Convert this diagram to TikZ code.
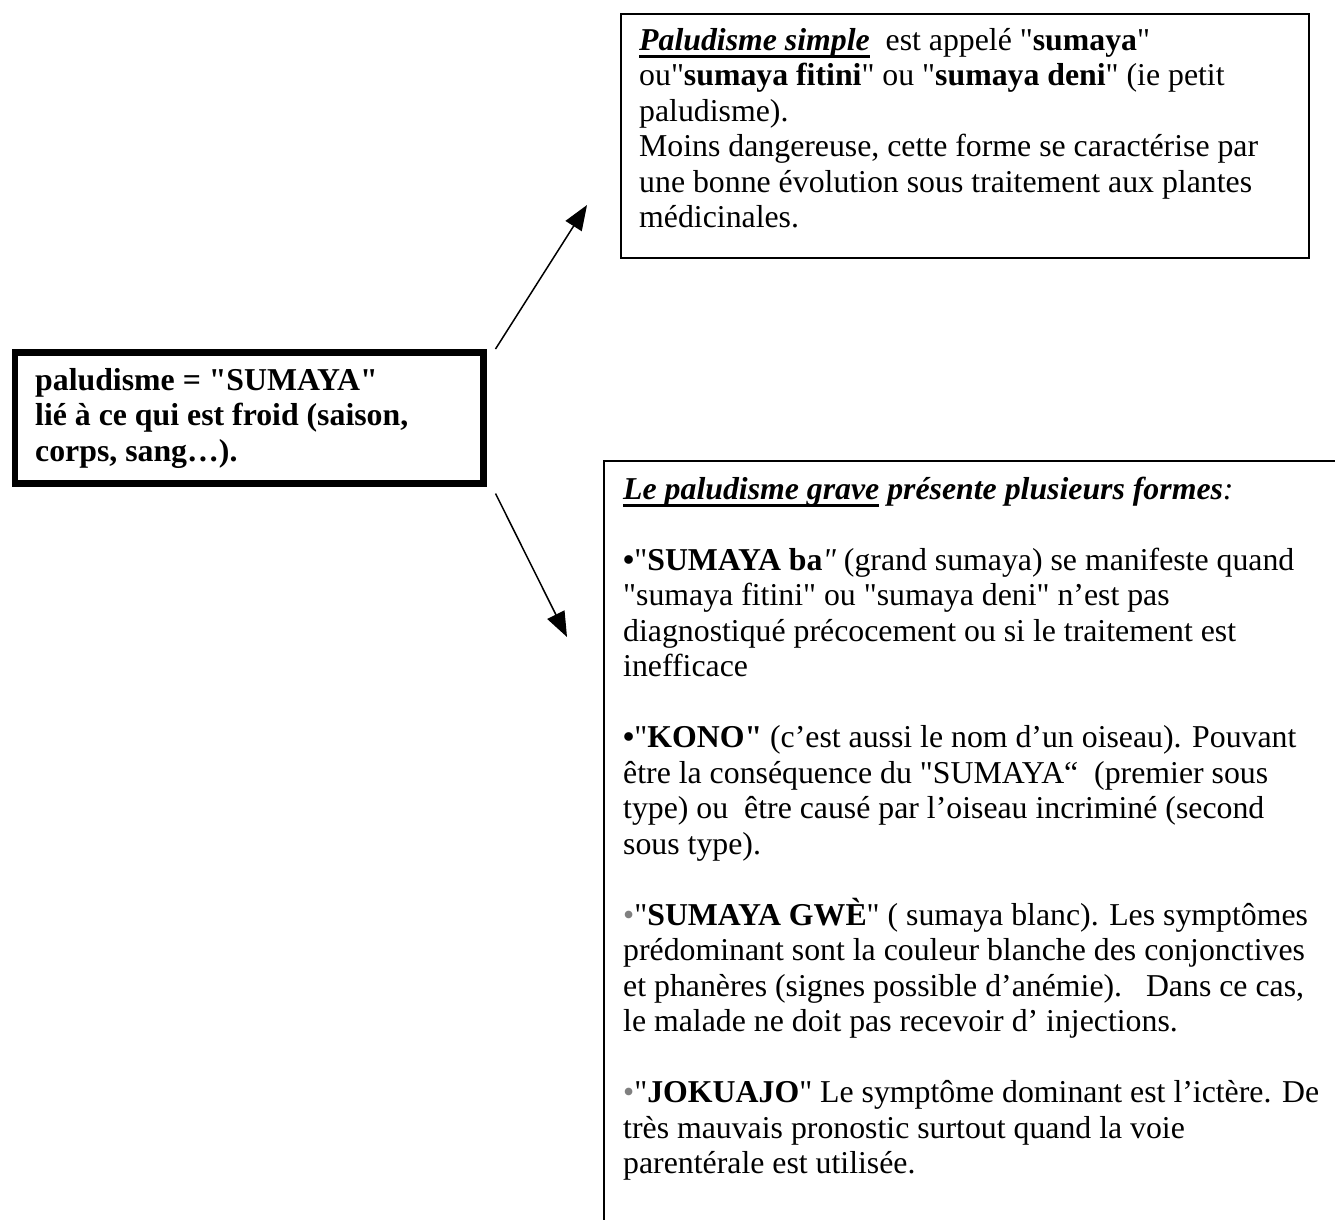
\documentclass[tikz,border=0pt]{standalone}
\usepackage{fontspec}
\setmainfont{Liberation Serif}[Ligatures=TeXOff]
\usetikzlibrary{arrows.meta}
\newcommand\ulthick[1]{\setbox0\hbox{#1}\rlap{\rule[-7.5pt]{\wd0}{3.2pt}}\box0}
\begin{document}
\begin{tikzpicture}[x=1pt,y=1pt,
  thinbox/.style={draw, line width=1.6pt, inner sep=0pt, anchor=north west},
  thickbox/.style={draw, line width=6.5pt, inner sep=0pt, anchor=north west},
  txt/.style={inner sep=0pt, anchor=north west, align=left, font=\fontsize{31.8}{35.5}\selectfont},
  arr/.style={line width=1.5pt, -{Triangle[length=25pt,width=19pt]}}]
\useasboundingbox (0,0) rectangle (1335,-1219);
% boxes
\node[thinbox, minimum width=688pt, minimum height=244pt] (simple) at (620,-13) {};
\node[thickbox, minimum width=468.5pt, minimum height=131pt] (palu) at (11.5,-349) {};
\node[inner sep=0pt, anchor=north west, minimum width=740pt, minimum height=770pt] (grave) at (604,-461) {};
\draw[line width=1.6pt] (grave.north east) -- (grave.north west) -- (grave.south west);
% texts
\node[txt] (simpleT) at (639,-50+24.85) {\strut\ulthick{\textbf{\textit{Paludisme simple}}}\ \ est appelé "\textbf{sumaya}"\\
ou"\textbf{sumaya fitini}" ou "\textbf{sumaya deni}" (ie petit\\
paludisme).\\
Moins dangereuse, cette forme se caractérise par\\
une bonne évolution sous traitement aux plantes\\
médicinales.};
\node[txt, font=\fontsize{31.8}{35.5}\selectfont\bfseries] (paluT) at (35,-390+24.85) {\strut paludisme = "SUMAYA"\\
lié à ce qui est froid (saison,\\
corps, sang…).};
\node[txt] (graveT) at (623,-499+24.85) {\strut\ulthick{\textbf{\textit{Le paludisme grave}}}\textbf{\textit{ présente plusieurs formes}}\textit{:}\\[35.5pt]
\textbf{•}"\textbf{SUMAYA ba}\textit{"} (grand sumaya) se manifeste quand\\
"sumaya fitini" ou "sumaya deni" n’est pas\\
diagnostiqué précocement ou si le traitement est\\
inefficace\\[35.5pt]
\textbf{•}"\textbf{KONO"} (c’est aussi le nom d’un oiseau). Pouvant\\
être la conséquence du "SUMAYA“\ \ (premier sous\\
type) ou\ \ être causé par l’oiseau incriminé (second\\
sous type).\\[35.5pt]
\textcolor{gray}{•}"\textbf{SUMAYA GWÈ}" ( sumaya blanc). Les symptômes\\
prédominant sont la couleur blanche des conjonctives\\
et phanères (signes possible d’anémie).\ \ \ Dans ce cas,\\
le malade ne doit pas recevoir d’ injections.\\[35.5pt]
\textcolor{gray}{•}"\textbf{JOKUAJO}" Le symptôme dominant est l’ictère. De\\
très mauvais pronostic surtout quand la voie\\
parentérale est utilisée.};
% arrows
\coordinate (tip1) at (587,-205);
\coordinate (tip2) at (567,-637);
\draw[arr] ([shift={(9,0)}]palu.north east) -- (tip1);
\draw[arr] ([shift={(9,-7)}]palu.south east) -- (tip2);
\end{tikzpicture}
\end{document}
